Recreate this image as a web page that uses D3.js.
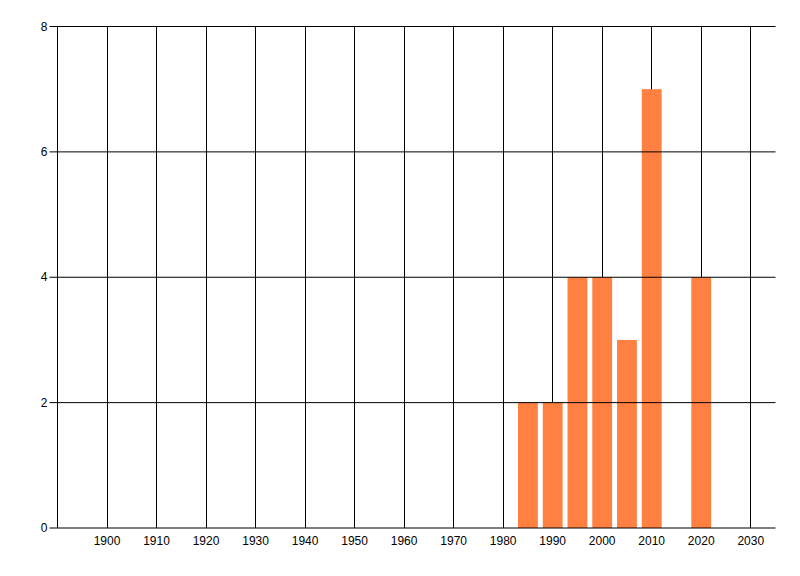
<!DOCTYPE html>
<html>
<head>
<meta charset="utf-8" />
<title>Bar chart</title>
<script src="https://cdn.jsdelivr.net/npm/d3@7"></script>
<style>
    body { margin: 0; background: #fff; }
    svg text { font-family: "Liberation Sans", Arial, sans-serif; font-size: 12px; fill: #000; }
</style>
</head>
<body>
<svg id="chart" width="800" height="576"></svg>
<script>
// data
var years = [1985, 1990, 1995, 2000, 2005, 2010, 2020];
var counts = [2, 2, 4, 4, 3, 7, 4];
var xTicks = [1900, 1910, 1920, 1930, 1940, 1950, 1960, 1970, 1980, 1990, 2000, 2010, 2020, 2030];
var yTicks = [0, 2, 4, 6, 8];

var svg = d3.select("#chart"),
    margin = {top: 26.5, right: 24.5, bottom: 48, left: 57.5},
    width = +svg.attr("width") - margin.left - margin.right,
    height = +svg.attr("height") - margin.top - margin.bottom;

var x = d3.scaleLinear().domain([1890, 2035]).range([0, width]),
    y = d3.scaleLinear().domain([0, 8]).range([height, 0]);

var g = svg.append("g")
    .attr("transform", "translate(" + margin.left + "," + margin.top + ")");

// vertical grid
g.selectAll(".vgrid")
    .data(xTicks)
    .enter().append("line")
    .attr("x1", function(d) { return Math.round(x(d)) + 0.5 - margin.left % 1; })
    .attr("x2", function(d) { return Math.round(x(d)) + 0.5 - margin.left % 1; })
    .attr("y1", 0)
    .attr("y2", height)
    .attr("stroke", "#000");

// bars
g.selectAll(".bar")
    .data(years)
    .enter().append("rect")
    .attr("x", function(d) { return x(d - 2); })
    .attr("width", function(d) { return x(d + 2) - x(d - 2); })
    .attr("y", function(d, i) { return y(counts[i]); })
    .attr("height", function(d, i) { return height - y(counts[i]); })
    .attr("fill", "#ff8040");

// horizontal grid + ticks
g.selectAll(".hgrid")
    .data(yTicks)
    .enter().append("line")
    .attr("x1", -8)
    .attr("x2", width)
    .attr("y1", function(d) { return y(d); })
    .attr("y2", function(d) { return y(d); })
    .attr("stroke", "#000");

// left axis line
g.append("line")
    .attr("x1", 0).attr("x2", 0)
    .attr("y1", 0).attr("y2", height)
    .attr("stroke", "#000");

// y labels
g.selectAll(".ylab")
    .data(yTicks)
    .enter().append("text")
    .attr("x", -10)
    .attr("y", function(d) { return y(d); })
    .attr("dy", "0.35em")
    .attr("text-anchor", "end")
    .text(function(d) { return d; });

// x labels
g.selectAll(".xlab")
    .data(xTicks)
    .enter().append("text")
    .attr("x", function(d) { return x(d); })
    .attr("y", height + 17)
    .attr("text-anchor", "middle")
    .text(function(d) { return d; });
</script>
</body>
</html>
